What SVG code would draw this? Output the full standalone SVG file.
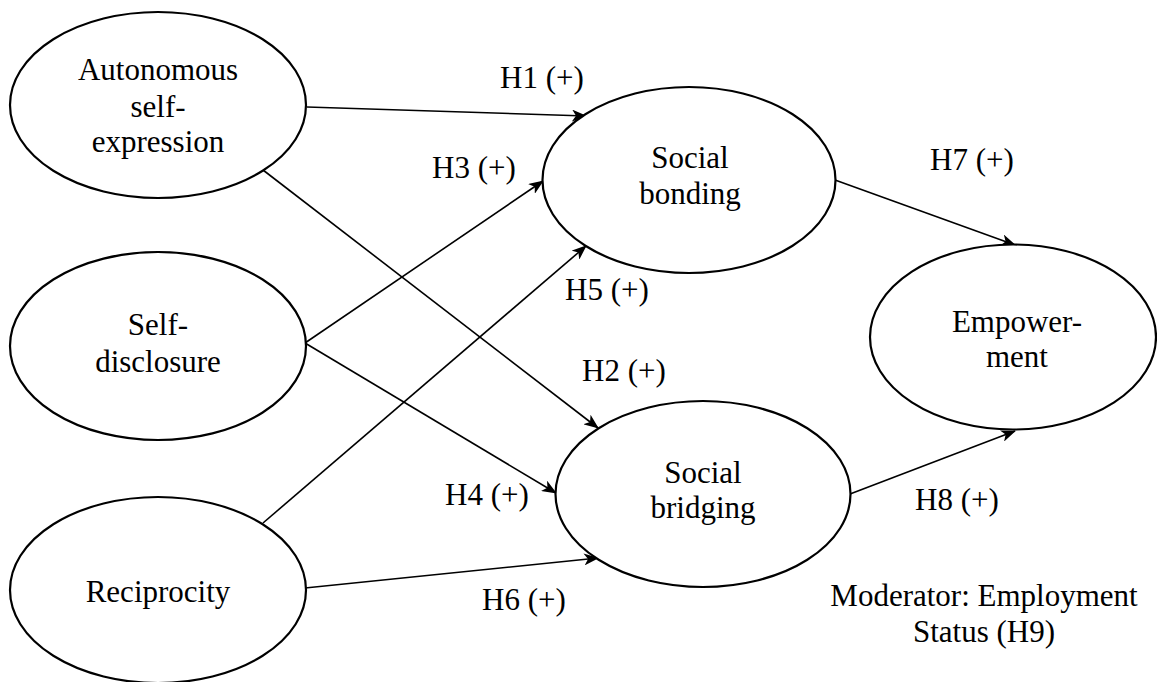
<svg xmlns="http://www.w3.org/2000/svg" width="1157" height="682" viewBox="0 0 1157 682">
<style>
.node ellipse{fill:#fff;stroke:#000;stroke-width:2.2}
text{font-family:"Liberation Serif","Times New Roman",serif;font-size:31px;fill:#000}
.c{text-anchor:middle}
#connectors line{stroke:#000;stroke-width:1.6;marker-end:url(#arr)}
</style>
<defs>
<marker id="arr" markerUnits="userSpaceOnUse" markerWidth="16" markerHeight="12" refX="14" refY="6" orient="auto">
<path d="M0,0 L15,6 L0,12 L4,6 z" fill="#000"/>
</marker>
</defs>
<rect width="1157" height="682" fill="#fff"/>
<g id="connectors">
<line x1="307" y1="107" x2="586" y2="116"/>
<line x1="305" y1="343" x2="543" y2="181"/>
<line x1="263" y1="523" x2="586" y2="246"/>
<line x1="263" y1="170" x2="598" y2="428"/>
<line x1="305" y1="343" x2="556" y2="493"/>
<line x1="305" y1="588" x2="598" y2="558"/>
<line x1="835" y1="180" x2="1015" y2="245"/>
<line x1="850" y1="494" x2="1015" y2="431"/>
</g>
<g id="n-autonomous" class="node">
<ellipse cx="158" cy="105" rx="148" ry="93"/>
<text class="c" x="158" y="80">Autonomous</text>
<text class="c" x="158" y="117">self-</text>
<text class="c" x="158" y="152">expression</text>
</g>
<g id="n-selfdisclosure" class="node">
<ellipse cx="158" cy="346" rx="148" ry="94"/>
<text class="c" x="158" y="335">Self-</text>
<text class="c" x="158" y="372">disclosure</text>
</g>
<g id="n-reciprocity" class="node">
<ellipse cx="158" cy="590" rx="148" ry="93"/>
<text class="c" x="158" y="602">Reciprocity</text>
</g>
<g id="n-bonding" class="node">
<ellipse cx="689" cy="180" rx="146.5" ry="93"/>
<text class="c" x="690" y="168">Social</text>
<text class="c" x="690" y="204">bonding</text>
</g>
<g id="n-bridging" class="node">
<ellipse cx="703" cy="494" rx="147.5" ry="93"/>
<text class="c" x="703" y="483">Social</text>
<text class="c" x="703" y="518">bridging</text>
</g>
<g id="n-empowerment" class="node">
<ellipse cx="1013" cy="337" rx="143" ry="92.5"/>
<text class="c" x="1017" y="332">Empower-</text>
<text class="c" x="1017" y="367">ment</text>
</g>
<g id="labels">
<text x="500" y="88">H1 (+)</text>
<text x="432" y="178">H3 (+)</text>
<text x="565" y="300">H5 (+)</text>
<text x="582" y="381">H2 (+)</text>
<text x="445" y="505">H4 (+)</text>
<text x="482" y="610">H6 (+)</text>
<text x="930" y="170">H7 (+)</text>
<text x="915" y="510">H8 (+)</text>
<text class="c" x="984" y="606">Moderator: Employment</text>
<text class="c" x="984" y="642">Status (H9)</text>
</g>
</svg>
